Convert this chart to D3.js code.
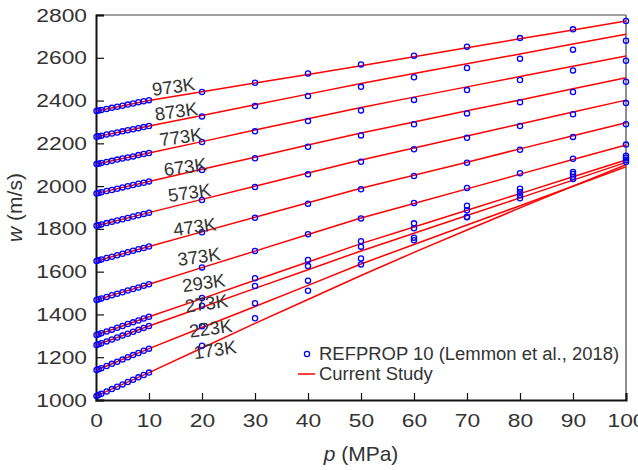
<!DOCTYPE html>
<html><head><meta charset="utf-8">
<script src="https://cdn.jsdelivr.net/npm/d3@7"></script>
<style>body{margin:0;background:#fff}svg{display:block}text{font-family:"Liberation Sans",Arial,sans-serif}</style>
</head><body><svg id="c" width="638" height="470"></svg>
<script>
const temperatures = ["973K","873K","773K","673K","573K","473K","373K","293K","273K","223K","173K"];
const refPressures = [0.1,0.5,1,2,3,4,5,6,7,8,9,10,20,30,40,50,60,70,80,90,100];
const ref973 = [2351,2353,2356,2361,2366,2371,2376,2381,2386,2392,2397,2402,2440,2483,2527,2569,2610,2652,2692,2733,2772];
const ref873 = [2231,2233,2236,2241,2246,2251,2256,2261,2266,2271,2276,2281,2326,2374,2421,2464,2509,2552,2596,2638,2680];
const ref773 = [2103,2105,2108,2113,2118,2124,2129,2134,2139,2145,2150,2155,2206,2256,2304,2354,2403,2449,2496,2541,2586];
const ref673 = [1966,1968,1971,1977,1982,1988,1994,1999,2005,2011,2016,2022,2075,2130,2184,2237,2289,2340,2392,2440,2488];
const ref573 = [1815,1817,1821,1827,1833,1839,1845,1851,1858,1864,1870,1876,1935,1996,2055,2114,2172,2226,2281,2336,2388];
const ref473 = [1650,1653,1657,1664,1670,1677,1684,1691,1698,1705,1711,1718,1784,1852,1918,1985,2047,2109,2170,2230,2289];
const ref373 = [1468,1471,1475,1482,1490,1497,1504,1512,1519,1526,1534,1541,1620,1697,1775,1849,1921,1991,2060,2128,2194];
const ref293 = [1304,1307,1312,1320,1329,1338,1346,1355,1363,1372,1381,1389,1477,1569,1655,1742,1826,1908,1988,2066,2142];
const ref273 = [1257,1261,1265,1274,1283,1292,1301,1310,1319,1328,1337,1346,1441,1533,1626,1717,1803,1887,1972,2057,2133];
const ref223 = [1140,1144,1149,1159,1169,1179,1189,1200,1210,1220,1230,1240,1345,1452,1558,1662,1759,1857,1957,2044,2122];
const ref173 = [1019,1023,1029,1040,1051,1062,1073,1084,1095,1106,1117,1128,1254,1382,1511,1634,1747,1854,1943,2033,2113];

const modelPressures = [0.1,10,20,30,40,50,60,70,80,90,100];
const mod973 = [2351,2400,2441,2482,2522,2563,2605,2647,2689,2730,2772];
const mod873 = [2231,2281,2330,2380,2430,2480,2526,2572,2618,2664,2710];
const mod773 = [2103,2155,2208,2262,2315,2368,2416,2464,2512,2560,2608];
const mod673 = [1966,2022,2079,2135,2192,2248,2300,2352,2403,2455,2507];
const mod573 = [1815,1876,1938,1999,2061,2122,2178,2234,2290,2346,2402];
const mod473 = [1650,1718,1786,1854,1922,1990,2051,2112,2174,2235,2296];
const mod373 = [1468,1541,1619,1696,1774,1851,1919,1987,2056,2124,2192];
const mod293 = [1304,1389,1474,1560,1645,1731,1809,1887,1965,2044,2122];
const mod273 = [1257,1346,1434,1522,1609,1697,1780,1863,1945,2028,2111];
const mod223 = [1140,1240,1339,1437,1536,1636,1727,1818,1908,1999,2090];
const mod173 = [1019,1128,1243,1358,1470,1582,1690,1795,1898,2000,2100];

const xTicks = [0,10,20,30,40,50,60,70,80,90,100];
const yTicks = [1000,1200,1400,1600,1800,2000,2200,2400,2600,2800];

const refSeries = [ref973,ref873,ref773,ref673,ref573,ref473,ref373,ref293,ref273,ref223,ref173];
const modSeries = [mod973,mod873,mod773,mod673,mod573,mod473,mod373,mod293,mod273,mod223,mod173];
const labelP = [14.8,15.3,16.2,17,17.8,18.8,19.6,20.5,21,21.8,22.6];
const labelW = [2435,2320,2200,2060,1940,1780,1640,1518,1422,1305,1205];

const W=638,H=470,m={l:96,t:15,r:12,b:70};
const svg=d3.select("#c");
const x=d3.scaleLinear().domain([0,100]).range([m.l,W-m.r]);
const y=d3.scaleLinear().domain([1000,2800]).range([H-m.b,m.t]);

function stretch(sel,f){
  sel.each(function(){
    const L=this.getComputedTextLength();
    d3.select(this).attr("textLength",L*f).attr("lengthAdjust","spacingAndGlyphs");
  });
}

// frame top/right
svg.append("line").attr("x1",x(0)).attr("x2",x(100)).attr("y1",y(2800)).attr("y2",y(2800)).attr("stroke","#444").attr("stroke-width",1.2);
svg.append("line").attr("x1",x(100)).attr("x2",x(100)).attr("y1",y(2800)).attr("y2",y(1000)).attr("stroke","#444").attr("stroke-width",1.2);

const gx=svg.append("g").attr("transform",`translate(0,${y(1000)})`)
  .call(d3.axisBottom(x).tickValues(xTicks).tickSize(-7).tickPadding(14).tickFormat(d3.format("d")));
const gy=svg.append("g").attr("transform",`translate(${x(0)},0)`)
  .call(d3.axisLeft(y).tickValues(yTicks).tickSize(-8).tickPadding(9).tickFormat(d3.format("d")));
[gx,gy].forEach(g=>{
  g.select(".domain").attr("stroke","#111").attr("stroke-width",2);
  g.selectAll(".tick line").attr("stroke","#111").attr("stroke-width",1.2);
  g.selectAll(".tick text").attr("fill","#333").style("font-size","19px").call(stretch,1.2);
});

const line=d3.line().x((d,i)=>x(modelPressures[i])).y(d=>y(d));
svg.append("g").selectAll("path").data(modSeries).join("path")
  .attr("d",d=>line(d)).attr("fill","none").attr("stroke","#ff0000").attr("stroke-width",1.5);

svg.append("g").selectAll("g").data(refSeries).join("g")
  .selectAll("circle").data(d=>d.map((v,i)=>[refPressures[i],v])).join("circle")
  .attr("cx",d=>x(d[0])).attr("cy",d=>y(d[1])).attr("r",2.6)
  .attr("fill","none").attr("stroke","#0000ff").attr("stroke-width",1.3);

svg.append("g").selectAll("text").data(temperatures).join("text")
  .attr("transform",(d,i)=>`translate(${x(labelP[i])},${y(labelW[i])}) rotate(-8)`)
  .attr("text-anchor","middle").attr("fill","#333").style("font-size","18.5px").text(d=>d);

// legend
const lg=svg.append("g");
lg.append("circle").attr("cx",307).attr("cy",354).attr("r",2.6).attr("fill","none").attr("stroke","#0000ff").attr("stroke-width",1.3);
lg.append("text").attr("x",319).attr("y",360).attr("fill","#333").style("font-size","18px").text("REFPROP 10 (Lemmon et al., 2018)").call(stretch,1.025);
lg.append("line").attr("x1",298).attr("x2",315).attr("y1",374).attr("y2",374).attr("stroke","#ff0000").attr("stroke-width",1.5);
lg.append("text").attr("x",319).attr("y",380).attr("fill","#333").style("font-size","18px").text("Current Study").call(stretch,1.025);

// axis titles
const xt=svg.append("text").attr("x",x(50)).attr("y",461).attr("text-anchor","middle").attr("fill","#333").style("font-size","21px");
xt.append("tspan").style("font-style","italic").text("p");
xt.append("tspan").text(" (MPa)");
const yt=svg.append("text").attr("transform",`translate(22,${y(1900)}) rotate(-90)`).attr("text-anchor","middle").attr("fill","#333").style("font-size","21px");
yt.append("tspan").style("font-style","italic").text("w");
yt.append("tspan").text(" (m/s)");
</script></body></html>
